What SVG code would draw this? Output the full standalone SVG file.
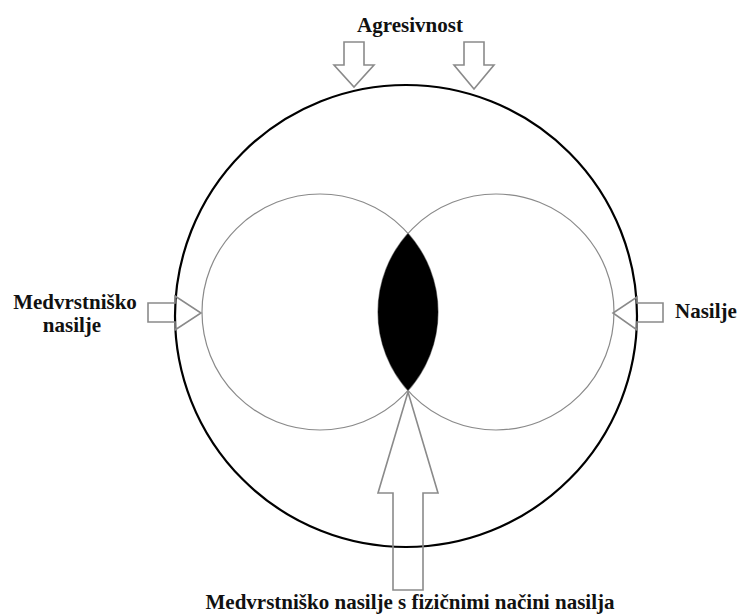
<svg xmlns="http://www.w3.org/2000/svg" width="742" height="616" viewBox="0 0 742 616">
<style>
.lbl{font-family:"Liberation Serif","Times New Roman",serif;font-weight:bold;font-size:21px;fill:#111}
.small{fill:none;stroke:#8a8a8a;stroke-width:1.2}
.arr{fill:none;stroke:#8a8a8a;stroke-width:1.6;stroke-linejoin:miter}
</style>
<rect width="742" height="616" fill="#fff"/>
<g id="circle-left"><circle class="small" cx="320" cy="312" r="118"/></g>
<g id="circle-right"><circle class="small" cx="496" cy="312" r="118"/></g>
<g id="intersection"><path d="M408 233.4 A118 118 0 0 1 408 390.6 A118 118 0 0 1 408 233.4 Z" fill="#000"/></g>
<g id="outer-circle"><circle cx="406" cy="316" r="231" fill="none" stroke="#000" stroke-width="2.2"/></g>
<g id="connectors">
<polygon class="arr" points="344,42 364,42 364,65 374,65 354,87 334,65 344,65"/>
<polygon class="arr" points="464,42 484,42 484,65 494,65 474,89 454,65 464,65"/>
<polygon class="arr" points="148,303 175,303 175,296 201,313 175,330 175,322 148,322"/>
<polygon class="arr" points="663,303 637,303 637,297 613,313 637,330 637,322 663,322"/>
<polygon class="arr" points="393,590 423,590 423,493 438,493 408,392 378,493 393,493"/>
</g>
<g id="label-agresivnost"><text class="lbl" x="410" y="32" text-anchor="middle">Agresivnost</text></g>
<g id="label-medvrstnisko"><text class="lbl" x="75" y="309" text-anchor="middle">Medvrstniško</text><text class="lbl" x="72" y="332" text-anchor="middle">nasilje</text></g>
<g id="label-nasilje"><text class="lbl" x="675" y="318">Nasilje</text></g>
<g id="label-bottom"><text class="lbl" x="410" y="609" text-anchor="middle">Medvrstniško nasilje s fizičnimi načini nasilja</text></g>
</svg>
